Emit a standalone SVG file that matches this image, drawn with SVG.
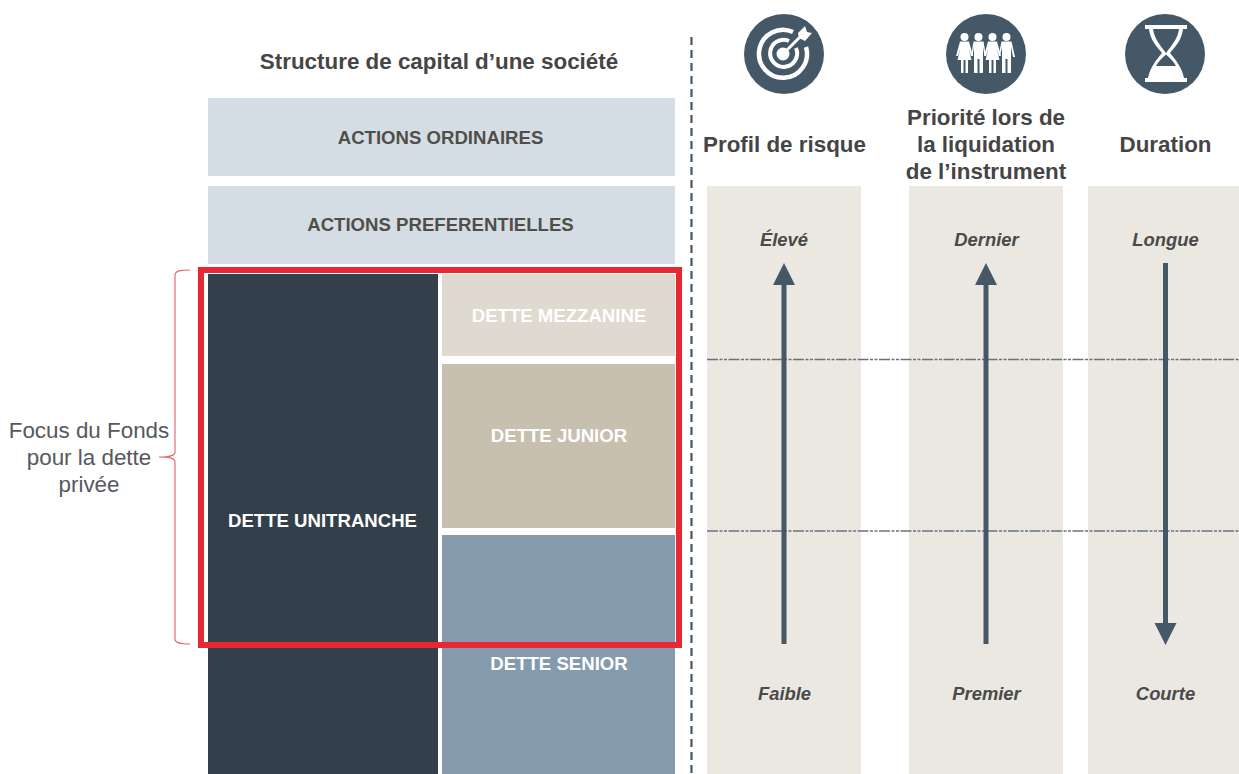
<svg xmlns="http://www.w3.org/2000/svg" width="1239" height="774" viewBox="0 0 1239 774">
<style>
text{font-family:"Liberation Sans",Arial,sans-serif;text-anchor:middle}
.h{font-size:22.4px;font-weight:700;fill:#454545}
.b{font-size:18.6px;font-weight:700}
.d{fill:#4f4f4a}
.w{fill:#fff}
.i{font-size:18.4px;font-weight:700;font-style:italic;fill:#4a4a4a}
.f{font-size:22.4px;fill:#55595c}
.col{fill:#ebe8e1}
.ci{fill:#445868}
.ar{stroke:#445868;stroke-width:5;fill:none}
.ah{fill:#445868}
.ico{fill:none;stroke:#fff}
.wf{fill:#fff}
</style>
<rect width="1239" height="774" fill="#fff"/>
<g id="title"><text class="h" x="439" y="69">Structure de capital d’une société</text></g>
<g id="actions-ordinaires"><rect x="208" y="98" width="467" height="78" fill="#d5dde4"/><text class="b d" x="440.500" y="144">ACTIONS ORDINAIRES</text></g>
<g id="actions-preferentielles"><rect x="208" y="186" width="467" height="78" fill="#d5dde4"/><text class="b d" x="440.500" y="231">ACTIONS PREFERENTIELLES</text></g>
<g id="dette-unitranche"><rect x="208" y="274" width="230" height="500" fill="#333f4a"/><text class="b w" x="322.500" y="527">DETTE UNITRANCHE</text></g>
<g id="dette-mezzanine"><rect x="442" y="274" width="233" height="82" fill="#dedad0"/><text class="b w" x="559" y="322">DETTE MEZZANINE</text></g>
<g id="dette-junior"><rect x="442" y="364" width="233" height="164" fill="#c7c0af"/><text class="b w" x="559" y="442">DETTE JUNIOR</text></g>
<g id="dette-senior"><rect x="442" y="535" width="233" height="239" fill="#849bae"/><text class="b w" x="559" y="670">DETTE SENIOR</text></g>
<g id="focus-box"><rect x="201" y="270" width="478" height="375" fill="none" stroke="#e72731" stroke-width="6"/></g>
<g id="focus-label"><text class="f" x="89" y="438">Focus du Fonds</text><text class="f" x="89" y="465">pour la dette</text><text class="f" x="89" y="492">privée</text></g>
<g id="col-risque"><rect class="col" x="707" y="186" width="154" height="588"/><text class="h" x="784.500" y="152">Profil de risque</text><text class="i" x="784" y="246">Élevé</text><text class="i" x="784.500" y="700">Faible</text></g>
<g id="col-priorite"><rect class="col" x="909" y="186" width="154" height="588"/><text class="h" x="986" y="125">Priorité lors de</text><text class="h" x="986" y="152">la liquidation</text><text class="h" x="986" y="179">de l’instrument</text><text class="i" x="986.500" y="246">Dernier</text><text class="i" x="986.500" y="700">Premier</text></g>
<g id="col-duration"><rect class="col" x="1088" y="186" width="151" height="588"/><text class="h" x="1165.500" y="152">Duration</text><text class="i" x="1165.500" y="246">Longue</text><text class="i" x="1165.500" y="700">Courte</text></g>
<g id="icon-risque"><circle class="ci" cx="784" cy="54" r="40"/>
<g class="ico"><path d="M793 32A24 24 0 1 0 806 47" stroke-width="4.500"/><path d="M789 41A13.500 13.500 0 1 0 796 48" stroke-width="4"/><path d="M783 54L800 37" stroke-width="3"/></g>
<circle class="wf" cx="783" cy="54" r="6.500"/>
<path class="wf" d="M798 33L805 26L807 32L812 33L805 41L799 38Z"/></g>
<g id="icon-priorite"><circle class="ci" cx="986" cy="54" r="40"/>
<g class="wf">
<circle cx="964.500" cy="37" r="4"/><path d="M960 41.500H969L973 56H971L968.500 48L971.500 60H968V73H965.500V60H963.500V73H961V60H957.500L960.500 48L958 56H956Z"/>
<circle cx="978.500" cy="37" r="4"/><path d="M973.500 41.500H983.500L986 56H984.500L983 47V73H979.500V59H977.500V73H974V47L972.500 56H971Z"/>
<circle cx="992.500" cy="37" r="4"/><path d="M988 41.500H997L1001 56H999L996.500 48L999.500 60H996V73H993.500V60H991.500V73H989V60H985.500L988.500 48L986 56H984Z"/>
<circle cx="1006.500" cy="37" r="4"/><path d="M1001.500 41.500H1011.500L1015 57H1013L1011 47V73H1007.500V59H1005.500V73H1002V47L1000 56H998.500Z"/>
</g></g>
<g id="icon-duration"><circle class="ci" cx="1165" cy="54" r="40"/>
<path class="wf" fill-rule="evenodd" d="M1145 25H1187V29H1183C1182 39 1176 46 1170 53C1176 60 1182 68 1184 78H1187V82H1145V78H1148C1150 68 1156 60 1162 53C1156 46 1150 39 1149 29H1145ZM1153 29C1154 38 1160 45 1166 53C1172 45 1178 38 1179 29ZM1166 54.500C1162 58 1158 62 1156 66H1176C1174 62 1170 58 1166 54.500Z"/></g>
<g id="connectors">
<path d="M691.500 37V774" stroke="#445868" stroke-width="2.200" stroke-dasharray="8 5" fill="none"/>
<path d="M707 359.500H1239M707 531H1239" stroke="#66737e" stroke-width="1.300" stroke-dasharray="11 1.500 3 1.500 3 1.500" fill="none"/>
<path class="ar" d="M784 644V284"/><path class="ah" d="M773 285H795L784 263Z"/>
<path class="ar" d="M986 644V284"/><path class="ah" d="M975 285H997L986 263Z"/>
<path class="ar" d="M1165.500 263V624"/><path class="ah" d="M1154.500 623H1176.500L1165.500 645Z"/>
<path d="M190 270C180 270 175 271 175 275V452C175 456 170 457 159 457C170 457 175 458 175 462V639C175 643 180 644 190 644" fill="none" stroke="#e8606a" stroke-width="1.100"/>
</g>
</svg>
